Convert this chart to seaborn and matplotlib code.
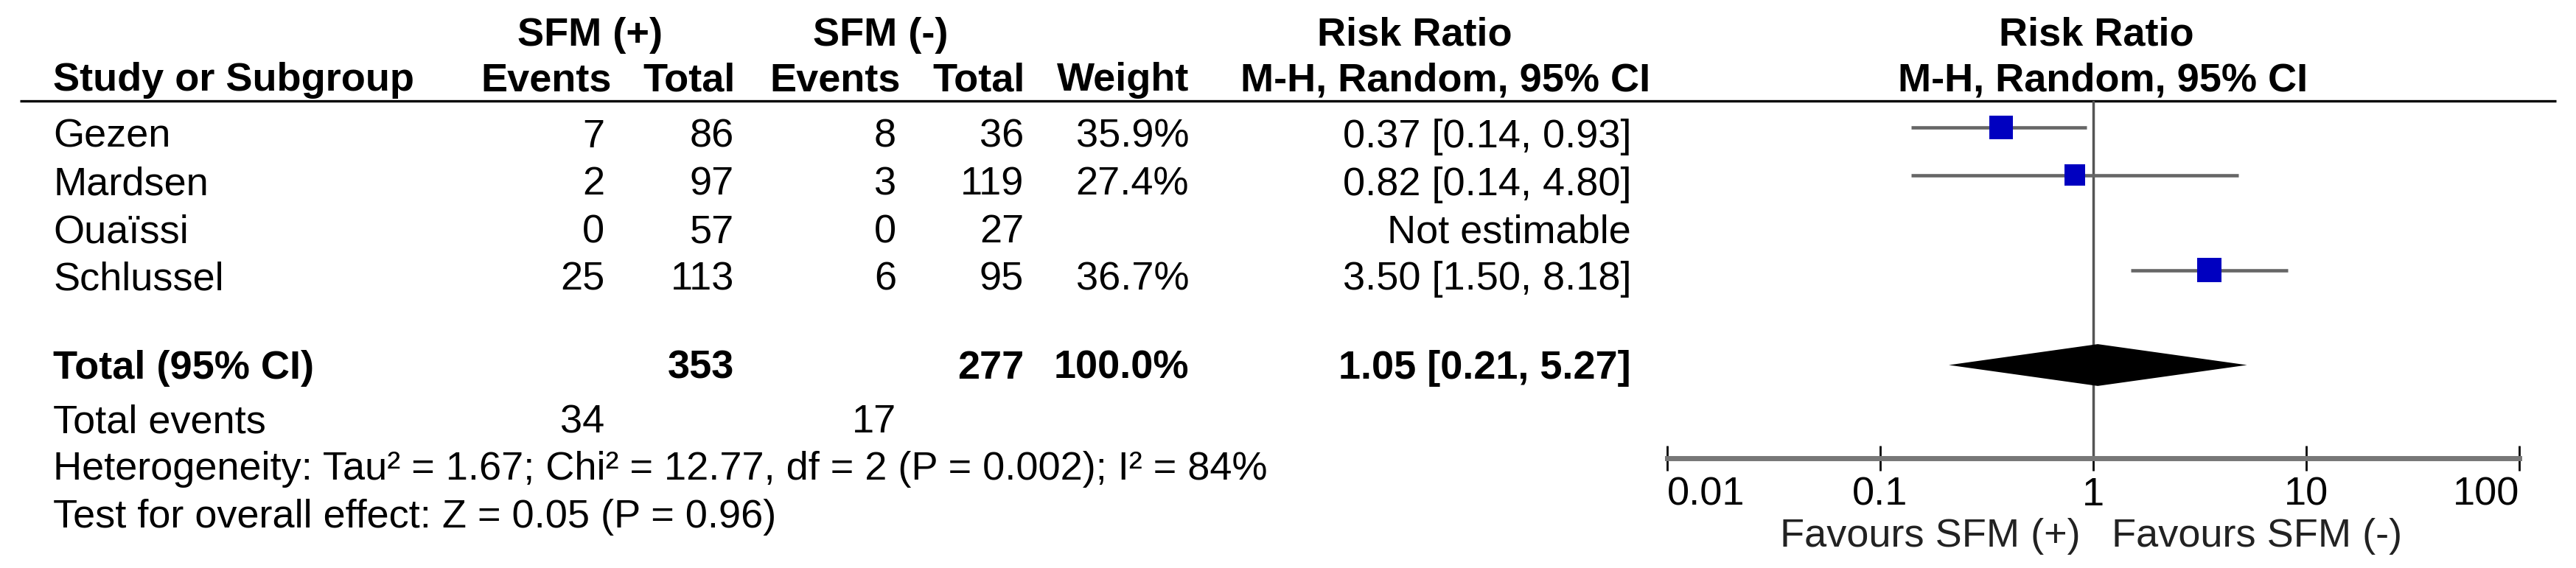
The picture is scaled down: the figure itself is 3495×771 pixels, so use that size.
import numpy as np
import pandas as pd
import matplotlib
matplotlib.use("Agg")
import matplotlib.pyplot as plt
from matplotlib.ticker import FixedLocator, NullLocator
import seaborn as sns

# ---------------- data ----------------
studies = ["Gezen", "Mardsen", "Ouaïssi", "Schlussel"]
events_pos = [7, 2, 0, 25]
total_pos = [86, 97, 57, 113]
events_neg = [8, 3, 0, 6]
total_neg = [36, 119, 27, 95]
weights = [35.9, 27.4, np.nan, 36.7]
rr = [0.37, 0.82, np.nan, 3.50]
rr_lo = [0.14, 0.14, np.nan, 1.50]
rr_hi = [0.93, 4.80, np.nan, 8.18]

sum_total_pos = 353
sum_total_neg = 277
sum_events_pos = 34
sum_events_neg = 17
sum_weight = 100.0
pooled_rr = 1.05
pooled_lo = 0.21
pooled_hi = 5.27

tau2 = 1.67
chi2 = 12.77
df_het = 2
p_het = 0.002
i2 = 84
z_val = 0.05
p_z = 0.96

tick_values = [0.01, 0.1, 1, 10, 100]
tick_labels = ["0.01", "0.1", "1", "10", "100"]
favours_left = "Favours SFM (+)"
favours_right = "Favours SFM (-)"

# ---------------- style ----------------
sns.set_style("white")
plt.rcParams["font.family"] = ["Liberation Sans", "DejaVu Sans"]
FS = 39

W, H = 3495, 771
fig = plt.figure(figsize=(W / 100, H / 100), dpi=100)
fig.patch.set_facecolor("white")

# table layer in pixel coordinates
tab = fig.add_axes([0, 0, 1, 1])
tab.set_xlim(0, W)
tab.set_ylim(H, 0)
tab.axis("off")

def t(x, y, s, ha="left", bold=False, color="black"):
    tab.text(x, y, s, ha=ha, va="baseline", fontsize=FS,
             fontweight="bold" if bold else "normal", color=color)

# column anchors
X_NAME = 72
X_EP, X_TP, X_EN, X_TN, X_W, X_RR = 820, 996, 1216, 1389, 1613, 2213

# headers
Y_H1, Y_H2 = 62, 123
t(801, Y_H1, "SFM (+)", ha="center", bold=True)
t(1195, Y_H1, "SFM (-)", ha="center", bold=True)
t(1919, Y_H1, "Risk Ratio", ha="center", bold=True)
t(2844, Y_H1, "Risk Ratio", ha="center", bold=True)
t(X_NAME, Y_H2, "Study or Subgroup", bold=True)
t(830, Y_H2, "Events", ha="right", bold=True)
t(998, Y_H2, "Total", ha="right", bold=True)
t(1222, Y_H2, "Events", ha="right", bold=True)
t(1391, Y_H2, "Total", ha="right", bold=True)
t(1613, Y_H2, "Weight", ha="right", bold=True)
t(1961, Y_H2, "M-H, Random, 95% CI", ha="center", bold=True)
t(2853, Y_H2, "M-H, Random, 95% CI", ha="center", bold=True)
tab.plot([27, 3468], [137, 137], color="black", lw=2.4, solid_capstyle="butt")

# study rows
row_base = [200, 264.5, 329, 393.5]
for i, name in enumerate(studies):
    y = row_base[i]
    t(X_NAME, y, name)
    t(X_EP, y, f"{events_pos[i]}", ha="right")
    t(X_TP, y, f"{total_pos[i]}", ha="right")
    t(X_EN, y, f"{events_neg[i]}", ha="right")
    t(X_TN, y, f"{total_neg[i]}", ha="right")
    if np.isnan(rr[i]):
        t(X_RR, y, "Not estimable", ha="right")
    else:
        t(X_W, y, f"{weights[i]:.1f}%", ha="right")
        t(X_RR, y, f"{rr[i]:.2f} [{rr_lo[i]:.2f}, {rr_hi[i]:.2f}]", ha="right")

# total row
Y_T = 514
t(X_NAME, Y_T, "Total (95% CI)", bold=True)
t(X_TP, Y_T, f"{sum_total_pos}", ha="right", bold=True)
t(X_TN, Y_T, f"{sum_total_neg}", ha="right", bold=True)
t(X_W, Y_T, f"{sum_weight:.1f}%", ha="right", bold=True)
t(X_RR, Y_T, f"{pooled_rr:.2f} [{pooled_lo:.2f}, {pooled_hi:.2f}]", ha="right", bold=True)

t(X_NAME, 587, "Total events")
t(X_EP, 587, f"{sum_events_pos}", ha="right")
t(X_EN, 587, f"{sum_events_neg}", ha="right")
t(X_NAME, 651, f"Heterogeneity: Tau² = {tau2:.2f}; Chi² = {chi2:.2f}, df = {df_het} "
               f"(P = {p_het:.3f}); I² = {i2}%")
t(X_NAME, 716, f"Test for overall effect: Z = {z_val:.2f} (P = {p_z:.2f})")

# ---------------- forest plot ----------------
row0_px, pitch = 173, 64.5
top_px, axis_px = 137, 622
left_px, right_px = 2262, 3418
ax = fig.add_axes([left_px / W, 1 - axis_px / H,
                   (right_px - left_px) / W, (axis_px - top_px) / H])
ax.patch.set_alpha(0)

rows = np.arange(len(studies), dtype=float)
total_row = len(studies) + 1.0
df = pd.DataFrame({"study": studies, "rr": rr, "lo": rr_lo, "hi": rr_hi,
                   "weight": weights, "row": rows}).dropna()

ax.axvline(1, color="#555555", lw=2.5, zorder=1)
ax.hlines(df["row"], df["lo"], df["hi"], color="#666666", lw=3.3, zorder=2)
sns.scatterplot(data=df, x="rr", y="row", size="weight", sizes=(0, 560),
                size_norm=(0, 36.7), marker="s", color="#0000c0",
                linewidth=0, legend=False, ax=ax, zorder=3)
half_h = 0.44
ax.fill([pooled_lo, pooled_rr, pooled_hi, pooled_rr],
        [total_row, total_row - half_h, total_row, total_row + half_h],
        color="black", lw=0, zorder=4)

ax.set_xscale("log")
ax.set_xlim(tick_values[0], tick_values[-1])
ax.set_ylim((axis_px - row0_px) / pitch, (top_px - row0_px) / pitch)
ax.set_xlabel("")
ax.set_ylabel("")
ax.yaxis.set_major_locator(NullLocator())
ax.xaxis.set_major_locator(FixedLocator(tick_values))
ax.xaxis.set_minor_locator(NullLocator())
ax.set_xticklabels(tick_labels)
for s in ["top", "left", "right"]:
    ax.spines[s].set_visible(False)
ax.spines["bottom"].set_color("#777777")
ax.spines["bottom"].set_linewidth(5)
ax.spines["bottom"].set_zorder(5)
ax.tick_params(axis="x", which="major", bottom=True, direction="inout",
               length=24, width=2, color="black", labelsize=FS, pad=6,
               labelcolor="black")
labs = ax.get_xticklabels()
labs[0].set_horizontalalignment("left")
labs[-1].set_horizontalalignment("right")

t(2823, 742, favours_left, ha="right", color="#222222")
t(2865, 742, favours_right, ha="left", color="#222222")

fig.savefig("out.png", dpi=100, facecolor="white")
